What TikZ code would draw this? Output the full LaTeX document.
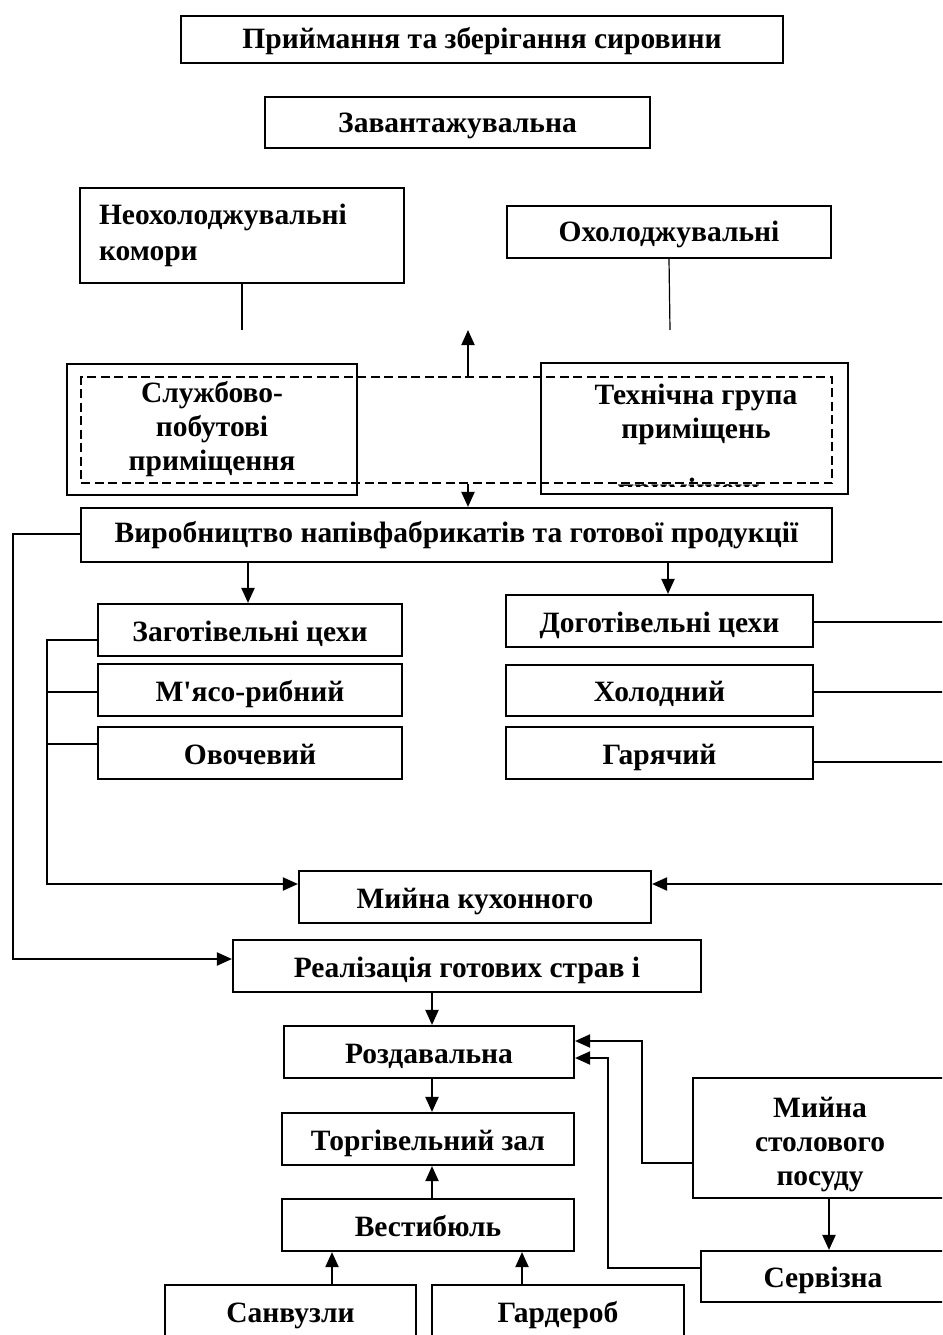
\documentclass[tikz,border=0pt]{standalone}
\usepackage{fontspec}
\setmainfont{Liberation Serif}
\newfontfamily\aposfont{Liberation Serif}
\usetikzlibrary{arrows.meta}
\tikzset{
  box/.style={draw, line width=2.1pt, inner sep=0pt, align=center, font=\fontsize{29.5}{34}\selectfont\bfseries},
  sbox/.style={box, text height=23pt, text depth=1pt},
  lbl/.style={inner sep=0pt, align=center, font=\fontsize{29.5}{34}\selectfont\bfseries},
  conn/.style={line width=2pt},
  thin/.style={line width=1.2pt},
  arr/.style={line width=2pt, -{Triangle[length=15pt,width=13pt]}},
}
\begin{document}
\begin{tikzpicture}[x=1pt,y=-1pt]
\clip (0,0) rectangle (942,1335);
\fill[white] (0,0) rectangle (942,1335);
% top boxes
\node[box, text height=19.6pt, text depth=2pt, minimum width=602pt, minimum height=47pt] (pr) at (482,39.5) {Приймання та зберігання сировини};
\node[box, text height=21pt, text depth=2pt, minimum width=385pt, minimum height=51pt] (zav) at (457.5,122.5) {Завантажувальна};
\node[box, minimum width=324pt, minimum height=95pt, text width=286pt, inner xsep=19pt, align=left] (neo) at (242,235.5) {Неохолоджувальні\\[2pt]комори};
\node[box, text height=21pt, text depth=2pt, minimum width=324pt, minimum height=52pt] (oxo) at (669,232) {Охолоджувальні};
\coordinate (n1) at (242,330);
\coordinate (n2) at (670,330);
\draw[thin] (neo.south) -- (n1);
\draw[thin] (oxo.south) -- (n2);
% service boxes
\node[box, minimum width=290pt, minimum height=131pt] (slu) at (212,429.5) {Службово-\\побутові\\приміщення};
\node[box, minimum width=307pt, minimum height=131pt] (tex) at (694.5,428.5) {};
\node[lbl] (texl) at (696,414.5) {Технічна група\\приміщень};
\begin{scope}
\clip (545,470) rectangle (845,486);
\node[lbl, anchor=base] (texc) at (692,498) {приміщень};
\end{scope}
\node[draw, dash pattern=on 9pt off 4.5pt, line width=1.6pt, minimum width=751pt, minimum height=106pt, inner sep=0pt] (grp) at (456.5,430) {};
\coordinate (up) at (468,330);
\draw[arr] (grp.north -| up) -- (up);
% production
\node[box, text height=18pt, text depth=4pt, minimum width=751pt, minimum height=54pt] (prod) at (456.5,535) {Виробництво напівфабрикатів та готової продукції};
\draw[arr] (grp.south -| up) -- (prod.north -| up);
% left group
\node[sbox, minimum width=304pt, minimum height=52pt] (zag) at (250,630) {Заготівельні цехи};
\node[sbox, minimum width=304pt, minimum height=52pt] (mya) at (250,690) {М{\aposfont\bfseries'}ясо-рибний};
\node[sbox, minimum width=304pt, minimum height=52pt] (ovo) at (250,753) {Овочевий};
\coordinate (xl) at (248,0);
\draw[arr] (prod.south -| xl) -- (zag.north -| xl);
% right group
\node[sbox, minimum width=307pt, minimum height=52pt] (dog) at (659.5,621) {Доготівельні цехи};
\node[sbox, minimum width=307pt, minimum height=51pt] (xol) at (659.5,690.5) {Холодний};
\node[sbox, minimum width=307pt, minimum height=52pt] (gar) at (659.5,753) {Гарячий};
\coordinate (xr) at (668,0);
\draw[arr] (prod.south -| xr) -- (dog.north -| xr);
% washing kitchen
\node[sbox, minimum width=352pt, minimum height=52pt] (myk) at (475,897) {Мийна кухонного};
\node[sbox, minimum width=468pt, minimum height=52pt] (rea) at (467,966) {Реалізація готових страв і};
% left bracket
\coordinate (bl) at (47,884);
\coordinate (b1) at ([yshift=-10pt]zag.west);
\coordinate (b2) at ([yshift=-2pt]mya.west);
\coordinate (b3) at ([yshift=9pt]ovo.west);
\draw[conn] (b2) -- (b2 -| bl);
\draw[conn] (b3) -- (b3 -| bl);
\draw[arr] (b1) -- (b1 -| bl) -- (bl) -- ([yshift=13pt]myk.west);
% right lines
\coordinate (br) at (946,884);
\coordinate (r1) at ([yshift=-1pt]dog.east);
\coordinate (r2) at ([yshift=-1pt]xol.east);
\coordinate (r3) at ([yshift=-9pt]gar.east);
\draw[conn] (r1) -- (r1 -| br);
\draw[conn] (r2) -- (r2 -| br);
\draw[conn] (r3) -- (r3 -| br);
\draw[arr] (br) -- ([yshift=13pt]myk.east);
% outer left
\coordinate (ol) at (13,959);
\coordinate (p1) at ([yshift=1pt]prod.west);
\draw[arr] (p1) -- (p1 -| ol) -- (ol) -- ([yshift=7pt]rea.west);
% bottom chain
\node[sbox, minimum width=290pt, minimum height=52pt] (roz) at (429,1052) {Роздавальна};
\node[sbox, minimum width=292pt, minimum height=52pt] (tor) at (428,1139) {Торгівельний зал};
\node[sbox, minimum width=292pt, minimum height=52pt] (ves) at (428,1225) {Вестибюль};
\node[sbox, minimum width=251pt, minimum height=52pt] (san) at (290.5,1311) {Санвузли};
\node[sbox, minimum width=252pt, minimum height=52pt] (gard) at (558,1311) {Гардероб};
\coordinate (cx) at (432,0);
\draw[arr] (rea.south -| cx) -- (roz.north -| cx);
\draw[arr] (roz.south -| cx) -- (tor.north -| cx);
\draw[arr] (ves.north -| cx) -- (tor.south -| cx);
\coordinate (s1) at (332,0);
\coordinate (s2) at (522,0);
\draw[arr] (san.north -| s1) -- (ves.south -| s1);
\draw[arr] (gard.north -| s2) -- (ves.south -| s2);
% right bottom
\node[box, minimum width=254pt, minimum height=120pt] (mys) at (820,1138) {};
\node[lbl] (mysl) at (820,1145) {Мийна\\столового\\посуду};
\node[sbox, minimum width=244pt, minimum height=51pt] (ser) at (823,1276.5) {Сервізна};
\coordinate (kx) at (642,0);
\coordinate (k1) at ([yshift=-25pt]mys.west);
\coordinate (k2) at ([yshift=11pt]roz.east);
\draw[arr] (k1) -- (k1 -| kx) -- (k2 -| kx) -- (k2);
\coordinate (jx) at (608,0);
\coordinate (j1) at ([yshift=8.5pt]ser.west);
\coordinate (j2) at ([yshift=-6pt]roz.east);
\draw[arr] (j1) -- (j1 -| jx) -- (j2 -| jx) -- (j2);
\coordinate (mx) at (829,0);
\draw[arr] (mys.south -| mx) -- (ser.north -| mx);
\end{tikzpicture}
\end{document}
